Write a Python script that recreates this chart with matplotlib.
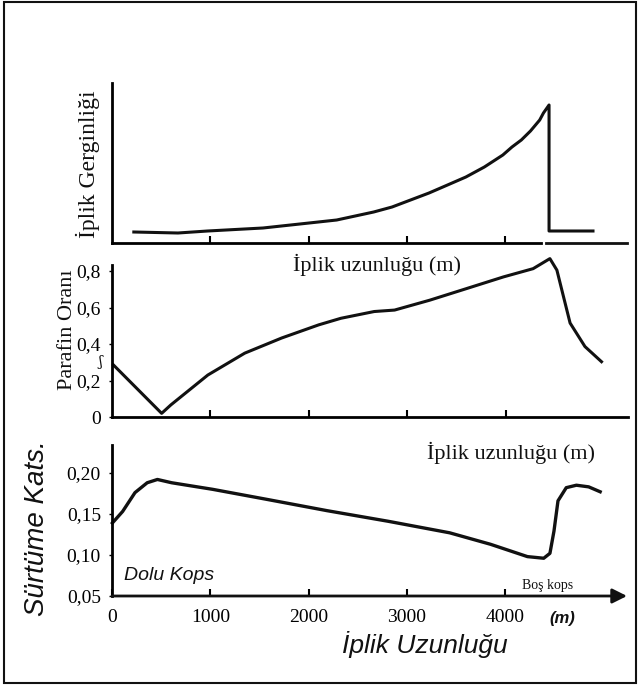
import matplotlib
matplotlib.use("Agg")
import matplotlib.pyplot as plt
from matplotlib.patches import Rectangle

# iplik gerginligi (relative), iplik uzunlugu in m
gergin_x = [222, 671, 973, 1348, 1536, 1723, 1911, 2099, 2286, 2474, 2662, 2849, 3037, 3225,
            3413, 3600, 3788, 3882, 3976, 4069, 4164, 4257, 4351, 4389, 4446, 4446, 4893]
gergin_y = [11, 10, 12, 14, 15, 17, 19, 21, 23, 27, 31, 36, 43, 50,
            58, 66, 76, 82, 88, 96, 103, 112, 123, 130, 138, 12, 12]

# parafin orani
parafin_x = [15, 504, 597, 973, 1348, 1723, 2099, 2324, 2662, 2869, 3225, 3601,
             3976, 4276, 4446, 4517, 4576, 4651, 4802, 4970]
parafin_y = [0.285, 0.02, 0.066, 0.23, 0.35, 0.433, 0.505, 0.541, 0.578, 0.586, 0.64, 0.704,
             0.768, 0.813, 0.868, 0.805, 0.677, 0.515, 0.386, 0.303]

# surtunme katsayisi
surt_x = [4, 108, 234, 358, 462, 607, 1023, 1564, 2187, 2812, 3435, 3851, 4226, 4392,
          4455, 4496, 4537, 4621, 4724, 4849, 4966]
surt_y = [0.139, 0.153, 0.176, 0.188, 0.192, 0.188, 0.180, 0.168, 0.154, 0.141, 0.127, 0.113,
          0.098, 0.096, 0.102, 0.129, 0.166, 0.182, 0.185, 0.183, 0.177]

len_ticks = [1000, 2000, 3000, 4000]
par_ticks = [0, 0.2, 0.4, 0.6, 0.8]
par_labels = ["0", "0,2", "0,4", "0,6", "0,8"]
surt_ticks = [0.05, 0.10, 0.15, 0.20]
surt_labels = ["0,05", "0,10", "0,15", "0,20"]
x_ticks = [0, 1000, 2000, 3000, 4000]
x_labels = ["0", "1000", "2000", "3000", "4000"]

W, H = 641, 686
SERIF = ["Liberation Serif", "DejaVu Serif"]
HAND = ["Liberation Sans", "DejaVu Sans"]
INK = "#111111"


def box(l, r, b, t):
    return [l / W, 1 - b / H, (r - l) / W, (b - t) / H]


def ftext(x, y, s, **kw):
    fig.text(x / W, 1 - y / H, s, ha="center", va="center", color=INK, **kw)


fig = plt.figure(figsize=(W / 100, H / 100), dpi=100)
fig.patches.append(Rectangle((4 / W, 1 - 683 / H), 632 / W, 681 / H, transform=fig.transFigure,
                             fill=False, lw=1.5, ec=INK))

XMAX = 5239

# --- panel 1: iplik gerginligi
ax1 = fig.add_axes(box(112, 627, 243, 83))
ax1.plot(gergin_x, gergin_y, color=INK, lw=2.2, clip_on=False, solid_joinstyle="round")
ax1.set_xlim(0, XMAX)
ax1.set_ylim(0, 160)
for s in ["top", "right"]:
    ax1.spines[s].set_visible(False)
ax1.spines["left"].set_linewidth(2)
ax1.spines["bottom"].set_linewidth(2)
ax1.spines["bottom"].set_bounds(0, 4365)
ax1.axhline(0, xmin=4415 / XMAX, xmax=1, color=INK, lw=2, clip_on=False)
ax1.set_xticks(len_ticks)
ax1.set_xticklabels([])
ax1.set_yticks([])
ax1.tick_params(axis="x", direction="in", length=5, width=1.5)
ftext(88, 164, "İplik Gerginliği", rotation=90, fontsize=17, family=SERIF)
ftext(377, 265, "İplik uzunluğu (m)", fontsize=16, family=SERIF)

# --- panel 2: parafin orani
ax2 = fig.add_axes(box(112, 628, 417, 265))
ax2.plot(parafin_x, parafin_y, color=INK, lw=2.2, clip_on=False, solid_joinstyle="round")
ax2.set_xlim(0, XMAX)
ax2.set_ylim(0, 0.833)
for s in ["top", "right"]:
    ax2.spines[s].set_visible(False)
ax2.spines["left"].set_linewidth(2)
ax2.spines["bottom"].set_linewidth(2)
ax2.set_xticks(len_ticks)
ax2.set_xticklabels([])
ax2.tick_params(axis="x", direction="in", length=5, width=1.5)
ax2.set_yticks(par_ticks)
ax2.set_yticklabels(par_labels, family=SERIF, fontsize=14)
ax2.tick_params(axis="y", direction="out", length=2, width=1, pad=6)
ftext(67, 330, "Parafin Oranı", rotation=90, fontsize=16, family=SERIF)
ftext(100, 362, "ʃ", fontsize=10, family=["DejaVu Serif"])

# --- panel 3: surtunme katsayisi
ax3 = fig.add_axes(box(112, 627, 596, 445))
ax3.plot(surt_x, surt_y, color=INK, lw=2.4, clip_on=False, solid_joinstyle="round")
ax3.set_xlim(0, XMAX)
ax3.set_ylim(0.05, 0.234)
for s in ["top", "right", "bottom"]:
    ax3.spines[s].set_visible(False)
ax3.spines["left"].set_linewidth(2)
ax3.annotate("", xy=(1, 0), xytext=(0, 0), xycoords="axes fraction",
             arrowprops=dict(arrowstyle="-|>", lw=2, color=INK, mutation_scale=22,
                             shrinkA=0, shrinkB=0))
ax3.set_xticks(x_ticks)
ax3.set_xticklabels(x_labels, family=SERIF, fontsize=14)
ax3.tick_params(axis="x", direction="in", length=5, width=1.5, pad=9)
ax3.set_yticks(surt_ticks)
ax3.set_yticklabels(surt_labels, family=SERIF, fontsize=14)
ax3.tick_params(axis="y", direction="out", length=2, width=1, pad=6)
ftext(511, 453, "İplik uzunluğu (m)", fontsize=16, family=SERIF)
ftext(548, 585, "Boş kops", fontsize=10, family=SERIF)
ftext(169, 575, "Dolu Kops", fontsize=14, family=HAND, style="italic")
ftext(562, 619, "(m)", fontsize=12, family=HAND, style="italic", weight="bold")
ftext(425, 645, "İplik Uzunluğu", fontsize=19, family=HAND, style="italic")
ftext(37, 528, "Sürtüme Kats.", rotation=90, fontsize=20, family=HAND, style="italic")

fig.savefig("out.png", dpi=100, facecolor="white")
